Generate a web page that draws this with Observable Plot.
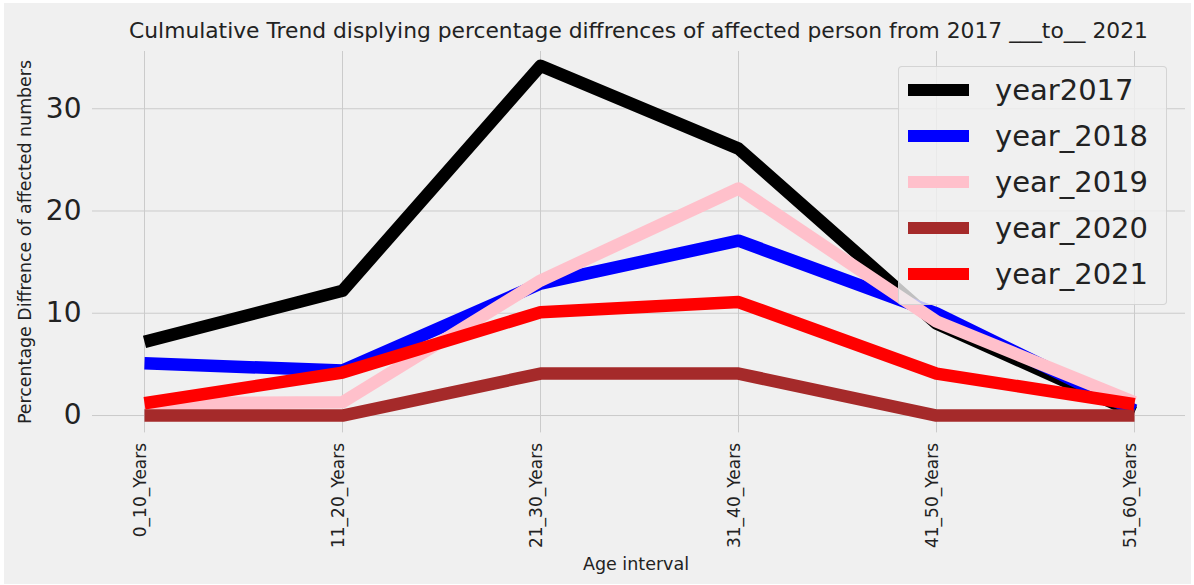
<!DOCTYPE html>
<html>
<head>
<meta charset="utf-8">
<script src="https://cdn.jsdelivr.net/npm/d3@7"></script>
<script src="https://cdn.jsdelivr.net/npm/@observablehq/plot@0.6"></script>
<style>
  html, body { margin: 0; padding: 0; background: #ffffff; }
  body { width: 1194px; height: 585px; position: relative; overflow: hidden; font-family: "DejaVu Sans", sans-serif; color: #222; }
  #fig { position: absolute; left: 4px; top: 3px; width: 1187px; height: 581px; background: #f0f0f0; }
  #title { position: absolute; left: 92px; width: 1093px; top: 18px; font-size: 21.8px; line-height: 26px; text-align: center; white-space: nowrap; }
  #chart { position: absolute; left: 4px; top: 45px; }
  #ylabel { position: absolute; left: 25px; top: 242px; font-size: 17.4px; white-space: nowrap; transform: translate(-50%, -50%) rotate(-90deg); }
  #xlabel { position: absolute; left: 636px; top: 564px; font-size: 17.5px; white-space: nowrap; transform: translate(-50%, -50%); }
  #legend { position: absolute; left: 898px; top: 66px; width: 267px; height: 237px; border: 1px solid rgba(204,204,204,0.8); border-radius: 4px; background: rgba(240,240,240,0.8); }
  .item { position: absolute; left: 0; height: 0; }
  .sw { position: absolute; left: 9px; width: 61px; height: 12.5px; top: -6.25px; }
  .lab { position: absolute; left: 96px; top: -17px; font-size: 29px; line-height: 34px; white-space: nowrap; }
</style>
</head>
<body>
<div id="fig"></div>
<div id="title"></div>
<div id="chart"></div>
<div id="ylabel"></div>
<div id="xlabel"></div>
<div id="legend"></div>
<script>
// ---- data ----
const categories = ["0_10_Years", "11_20_Years", "21_30_Years", "31_40_Years", "41_50_Years", "51_60_Years"];
const seriesNames = ["year2017", "year_2018", "year_2019", "year_2020", "year_2021"];
const seriesColors = ["black", "blue", "pink", "brown", "red"];
const year2017 = [7.2, 12.2, 34.2, 26.1, 9.0, 0.3];
const year_2018 = [5.1, 4.4, 12.9, 17.1, 10.0, 0.5];
const year_2019 = [1.2, 1.3, 13.2, 22.2, 9.2, 1.3];
const year_2020 = [0, 0, 4.1, 4.1, 0, 0];
const year_2021 = [1.2, 4.2, 10.1, 11.1, 4.1, 1.1];
const yTicks = [0, 10, 20, 30];
const titleText = "Culmulative Trend displying percentage diffrences of affected person from 2017 ___to__ 2021";
const xLabelText = "Age interval";
const yLabelText = "Percentage Diffrence of affected numbers";

const seriesValues = [year2017, year_2018, year_2019, year_2020, year_2021];
const rows = [];
seriesNames.forEach((name, i) => {
  categories.forEach((c, j) => rows.push({series: name, age: c, value: seriesValues[i][j]}));
});

document.getElementById("title").textContent = titleText;
document.getElementById("xlabel").textContent = xLabelText;
document.getElementById("ylabel").textContent = yLabelText;

const chart = Plot.plot({
  width: 1187,
  height: 539,
  marginTop: 6,
  marginBottom: 151.6,
  marginLeft: 88,
  marginRight: 6,
  style: {background: "transparent", fontFamily: "DejaVu Sans", color: "#222", overflow: "visible"},
  x: {type: "point", domain: categories, padding: 0.25, label: null},
  y: {domain: [-1.7, 35.6], label: null},
  color: {domain: seriesNames, range: seriesColors},
  marks: [
    Plot.gridY(yTicks, {stroke: "#cbcbcb", strokeOpacity: 1, strokeWidth: 1}),
    Plot.gridX(categories, {stroke: "#cbcbcb", strokeOpacity: 1, strokeWidth: 1}),
    Plot.axisY(yTicks, {tickSize: 0, tickPadding: 11, fontSize: 28, label: null}),
    Plot.axisX(categories, {tickRotate: -90, tickSize: 0, tickPadding: 10, fontSize: 17, dx: -4, label: null}),
    Plot.line(rows, {x: "age", y: "value", z: "series", stroke: "series", strokeWidth: 12.5, strokeLinejoin: "round", strokeLinecap: "butt"})
  ]
});
document.getElementById("chart").appendChild(chart);

const legend = document.getElementById("legend");
seriesNames.forEach((name, i) => {
  const item = document.createElement("div");
  item.className = "item";
  item.style.top = (23 + i * 46) + "px";
  const sw = document.createElement("div");
  sw.className = "sw";
  sw.style.background = seriesColors[i];
  const lab = document.createElement("div");
  lab.className = "lab";
  lab.textContent = name;
  item.appendChild(sw);
  item.appendChild(lab);
  legend.appendChild(item);
});
</script>
</body>
</html>
